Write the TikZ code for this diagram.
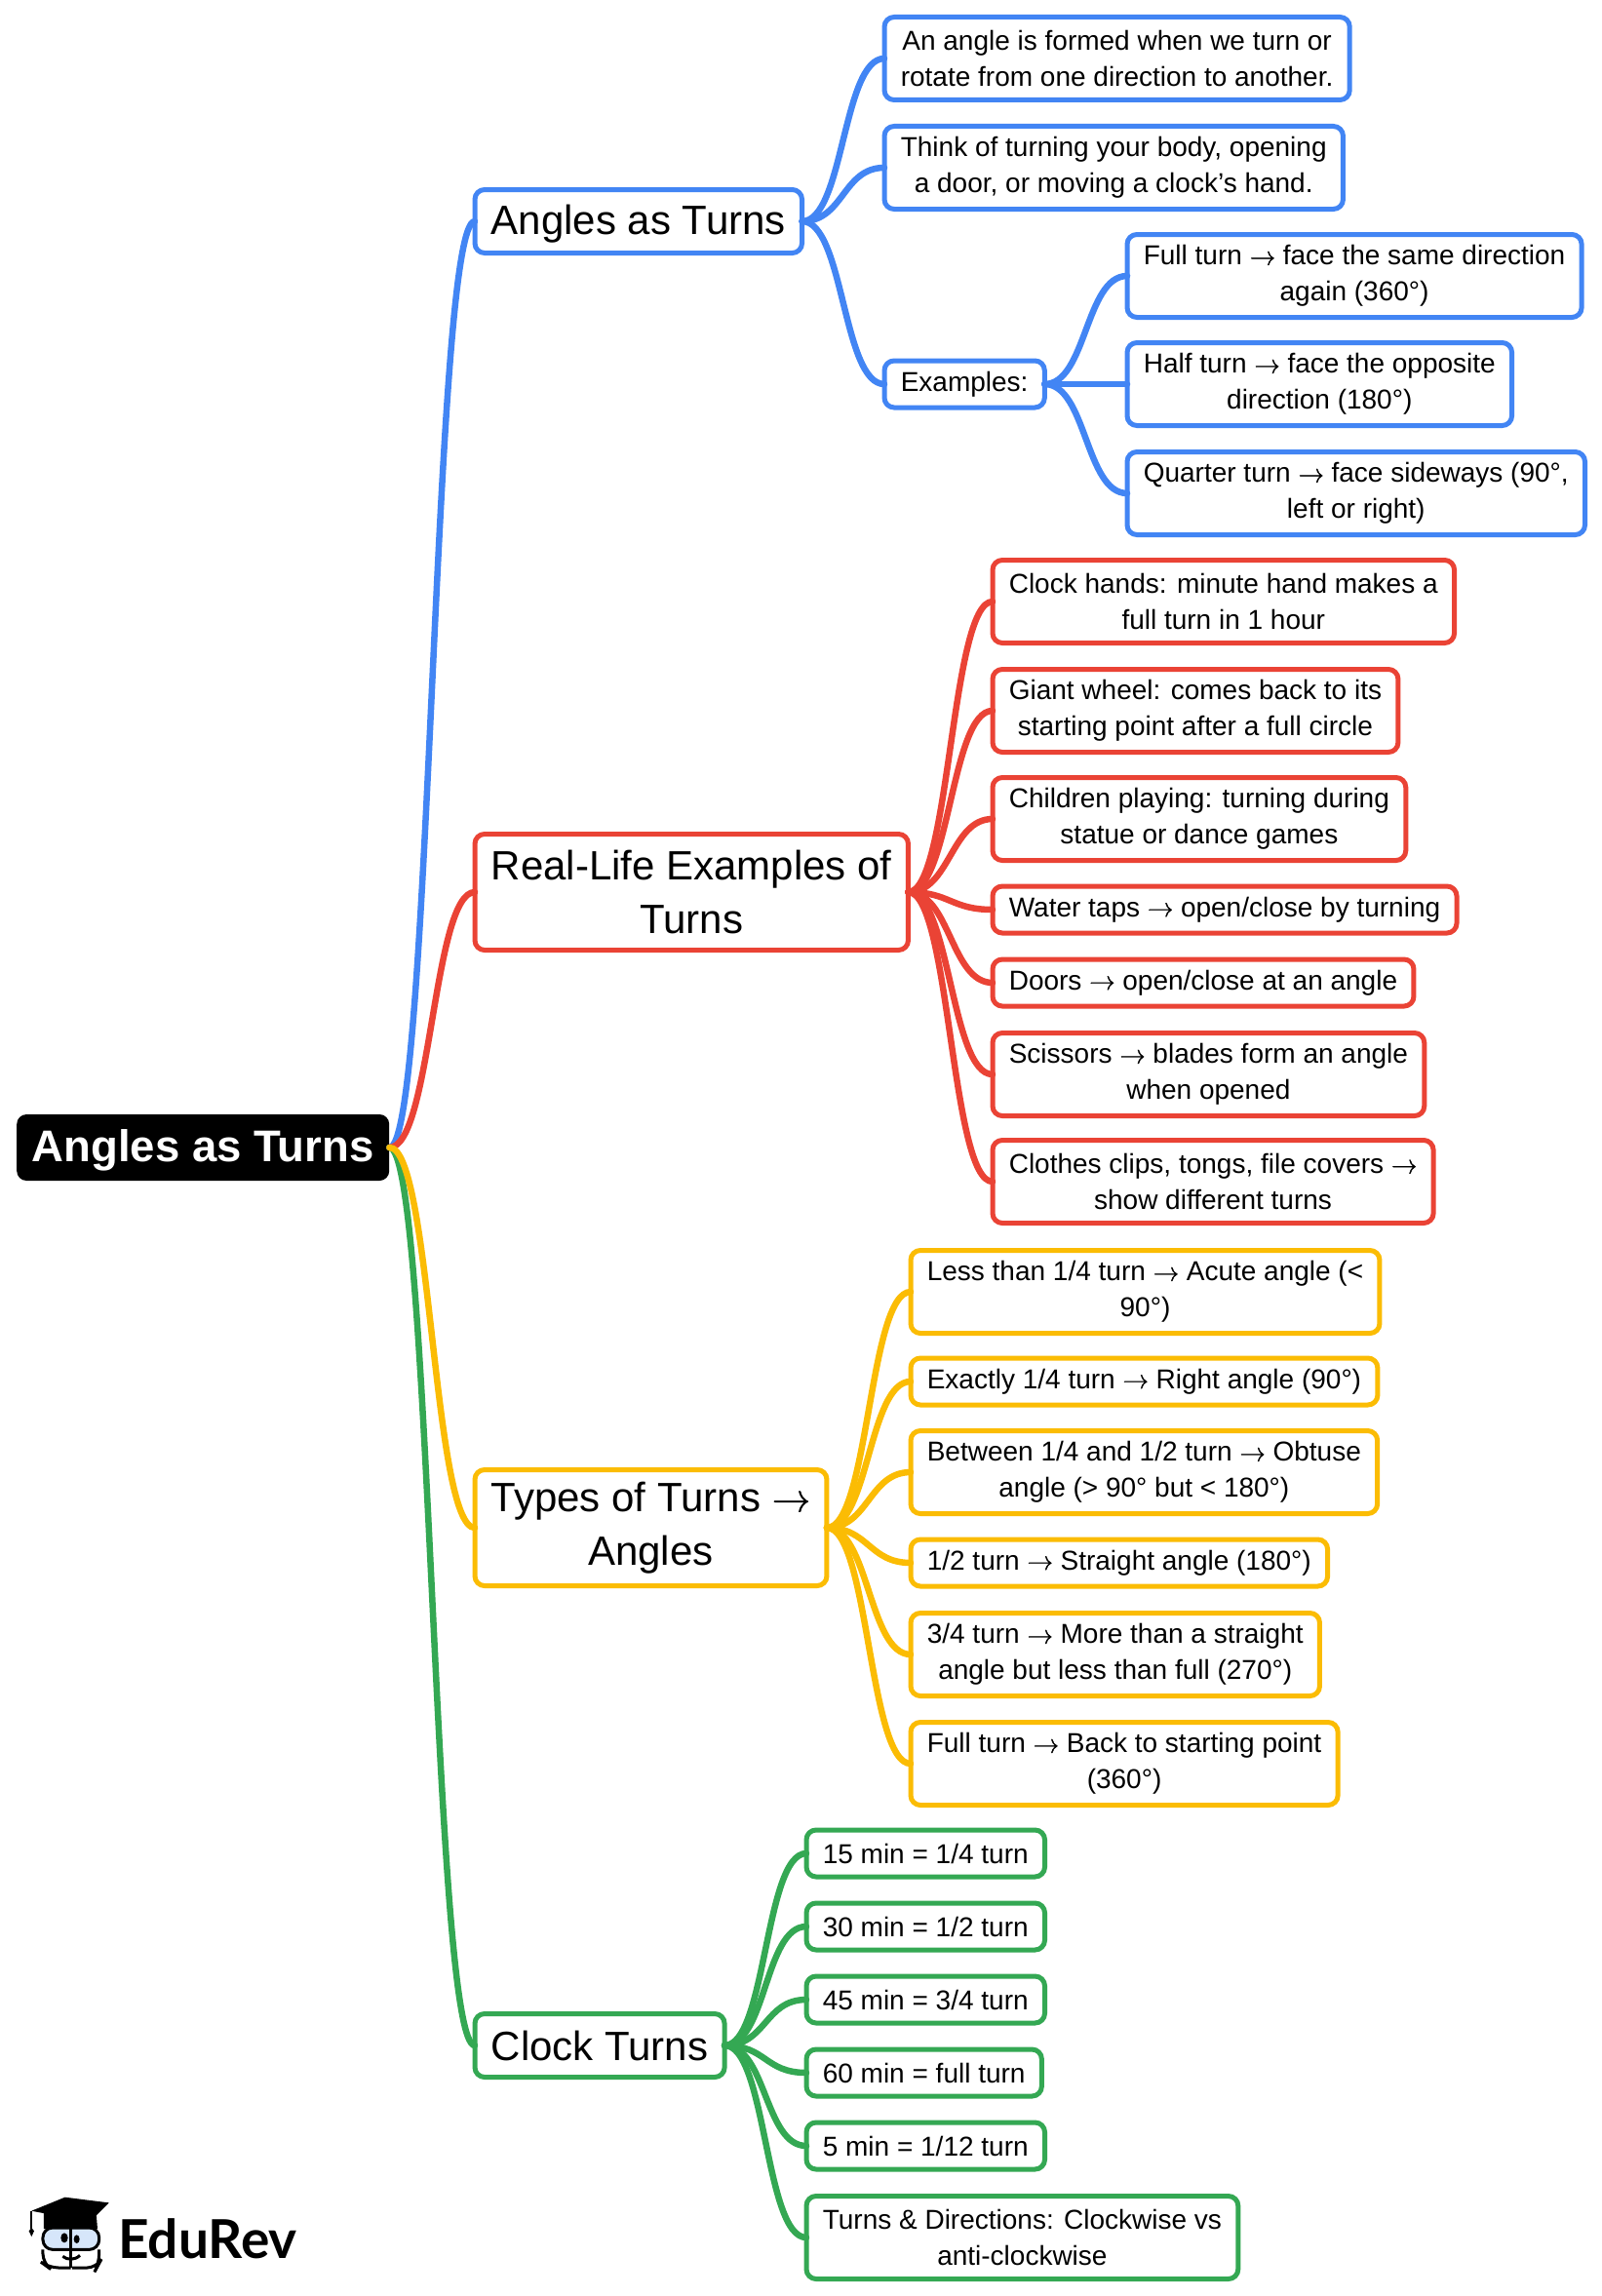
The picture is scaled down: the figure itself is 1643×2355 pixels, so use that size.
\documentclass[tikz,border=0pt]{standalone}
\usepackage{fontspec}
\setmainfont{Liberation Sans}
\newfontfamily\logofont{Lato}
\newfontfamily\arrowfont[RawFeature={embolden=1.2}]{Latin Modern Roman}
\definecolor{mapblue}{HTML}{4285F4}
\definecolor{mapred}{HTML}{EA4335}
\definecolor{mapyellow}{HTML}{FBBC04}
\definecolor{mapgreen}{HTML}{34A853}
\definecolor{logoblue}{HTML}{D6E6FA}
\tikzset{
  rootbox/.style={fill=black,rounded corners=10,text=white,anchor=west,inner sep=0pt,minimum width=382,minimum height=68,text height=36,text depth=8,font=\fontsize{45.5}{54}\selectfont\bfseries},
  box/.style={draw,fill=white,rounded corners=10,line width=5,anchor=west,align=center,inner xsep=16.8,inner ysep=0,outer sep=0pt,font=\fontsize{28}{36.6}\selectfont},
  onebox/.style={box,minimum height=48},
  twobox/.style={box,minimum height=85},
  bigbox/.style={box,font=\fontsize{42}{54.5}\selectfont},
  link/.style={line width=6.5,line cap=round},
}
\newcommand{\branch}[2]{\draw[link] (#1.east) .. controls +(43,0) and +(-43,0) .. (#2.west);}
\newcommand{\turnarrow}{{\arrowfont →}}
\begin{document}
\begin{tikzpicture}[x=1pt,y=-1pt]
  \useasboundingbox[fill=white] (0,0) rectangle (1643,2355);

  \node[rootbox] (root) at (17,1177) {Angles as Turns};

  \node[bigbox,draw=mapblue,minimum height=65,text height=35,text depth=8] (turns) at (487,227) {Angles as Turns};
  \node[bigbox,draw=mapred,minimum height=119] (life) at (487,915) {Real-Life Examples of\\Turns};
  \node[bigbox,draw=mapyellow,minimum height=119] (kinds) at (487,1567) {Types of Turns \turnarrow\\Angles};
  \node[bigbox,draw=mapgreen,minimum height=65] (clock) at (487,2098) {Clock Turns};

  \node[twobox,draw=mapblue] (b1) at (907,60) {An angle is formed when we turn or\\rotate from one direction to another.};
  \node[twobox,draw=mapblue] (b2) at (907,172) {Think of turning your body, opening\\a door, or moving a clock’s hand.};
  \node[onebox,draw=mapblue] (b3) at (907,394) {Examples:};
  \node[twobox,draw=mapblue] (b4) at (1156,283) {Full turn \turnarrow\ face the same direction\\again (360°)};
  \node[twobox,draw=mapblue] (b5) at (1156,394) {Half turn \turnarrow\ face the opposite\\direction (180°)};
  \node[twobox,draw=mapblue] (b6) at (1156,506) {Quarter turn \turnarrow\ face sideways (90°,\\left or right)};

  \node[twobox,draw=mapred] (r1) at (1018,617) {Clock hands: minute hand makes a\\full turn in 1 hour};
  \node[twobox,draw=mapred] (r2) at (1018,729) {Giant wheel: comes back to its\\starting point after a full circle};
  \node[twobox,draw=mapred] (r3) at (1018,840) {Children playing: turning during\\statue or dance games};
  \node[onebox,draw=mapred] (r4) at (1018,933) {Water taps \turnarrow\ open/close by turning};
  \node[onebox,draw=mapred] (r5) at (1018,1008) {Doors \turnarrow\ open/close at an angle};
  \node[twobox,draw=mapred] (r6) at (1018,1102) {Scissors \turnarrow\ blades form an angle\\when opened};
  \node[twobox,draw=mapred] (r7) at (1018,1212) {Clothes clips, tongs, file covers \turnarrow\\show different turns};

  \node[twobox,draw=mapyellow] (y1) at (934,1325) {Less than 1/4 turn \turnarrow\ Acute angle (<\\90°)};
  \node[onebox,draw=mapyellow] (y2) at (934,1417) {Exactly 1/4 turn \turnarrow\ Right angle (90°)};
  \node[twobox,draw=mapyellow] (y3) at (934,1510) {Between 1/4 and 1/2 turn \turnarrow\ Obtuse\\angle (> 90° but < 180°)};
  \node[onebox,draw=mapyellow] (y4) at (934,1603) {1/2 turn \turnarrow\ Straight angle (180°)};
  \node[twobox,draw=mapyellow] (y5) at (934,1697) {3/4 turn \turnarrow\ More than a straight\\angle but less than full (270°)};
  \node[twobox,draw=mapyellow] (y6) at (934,1809) {Full turn \turnarrow\ Back to starting point\\(360°)};

  \node[onebox,draw=mapgreen] (g1) at (827,1901) {15 min = 1/4 turn};
  \node[onebox,draw=mapgreen] (g2) at (827,1976) {30 min = 1/2 turn};
  \node[onebox,draw=mapgreen] (g3) at (827,2051) {45 min = 3/4 turn};
  \node[onebox,draw=mapgreen] (g4) at (827,2126) {60 min = full turn};
  \node[onebox,draw=mapgreen] (g5) at (827,2201) {5 min = 1/12 turn};
  \node[twobox,draw=mapgreen] (g6) at (827,2295) {Turns \& Directions: Clockwise vs\\anti-clockwise};

  \begin{scope}[mapblue]
    \branch{root}{turns}
    \foreach \a/\b in {turns/b1,turns/b2,turns/b3,b3/b4,b3/b5,b3/b6}
      {\branch{\a}{\b}}
  \end{scope}
  \begin{scope}[mapred]
    \branch{root}{life}
    \foreach \b in {r1,r2,r3,r4,r5,r6,r7}
      {\branch{life}{\b}}
  \end{scope}
  \begin{scope}[mapgreen]
    \branch{root}{clock}
    \foreach \b in {g1,g2,g3,g4,g5,g6}
      {\branch{clock}{\b}}
  \end{scope}
  \begin{scope}[mapyellow]
    \branch{root}{kinds}
    \foreach \b in {y1,y2,y3,y4,y5,y6}
      {\branch{kinds}{\b}}
  \end{scope}

  \begin{scope}[shift={(0,2220)},x=0.3333pt,y=-0.3333pt]
    \fill (135,150) -- (135,198) -- (300,198) -- (296,150) -- cycle;
    \fill (97,143) -- (200,101) -- (335,118) -- (275,178) -- cycle;
    \draw[line width=2] (97,145) -- (97,198);
    \fill (97,195) -- (89,205) -- (97,222) -- (105,205) -- cycle;
    \draw[fill=logoblue,line width=3,rounded corners=10] (132,195) rectangle (305,262);
    \draw[line width=3,rounded corners=10] (218,318) -- (150,318) -- (132,305) -- (132,262);
    \draw[line width=3,rounded corners=10] (222,318) -- (298,318) -- (305,305) -- (305,262);
    \draw[line width=3] (218,188) -- (218,318);
    \fill (198,226) ellipse (11 and 15);
    \fill (236,230) ellipse (9 and 13);
    \draw[line width=3] (193,283) .. controls (208,295) and (230,295) .. (246,280);
  \end{scope}
  \node[anchor=west,inner sep=0pt,font=\fontsize{55}{60}\logofont\bfseries] (logo) at (121,2296) {EduRev};
\end{tikzpicture}
\end{document}
